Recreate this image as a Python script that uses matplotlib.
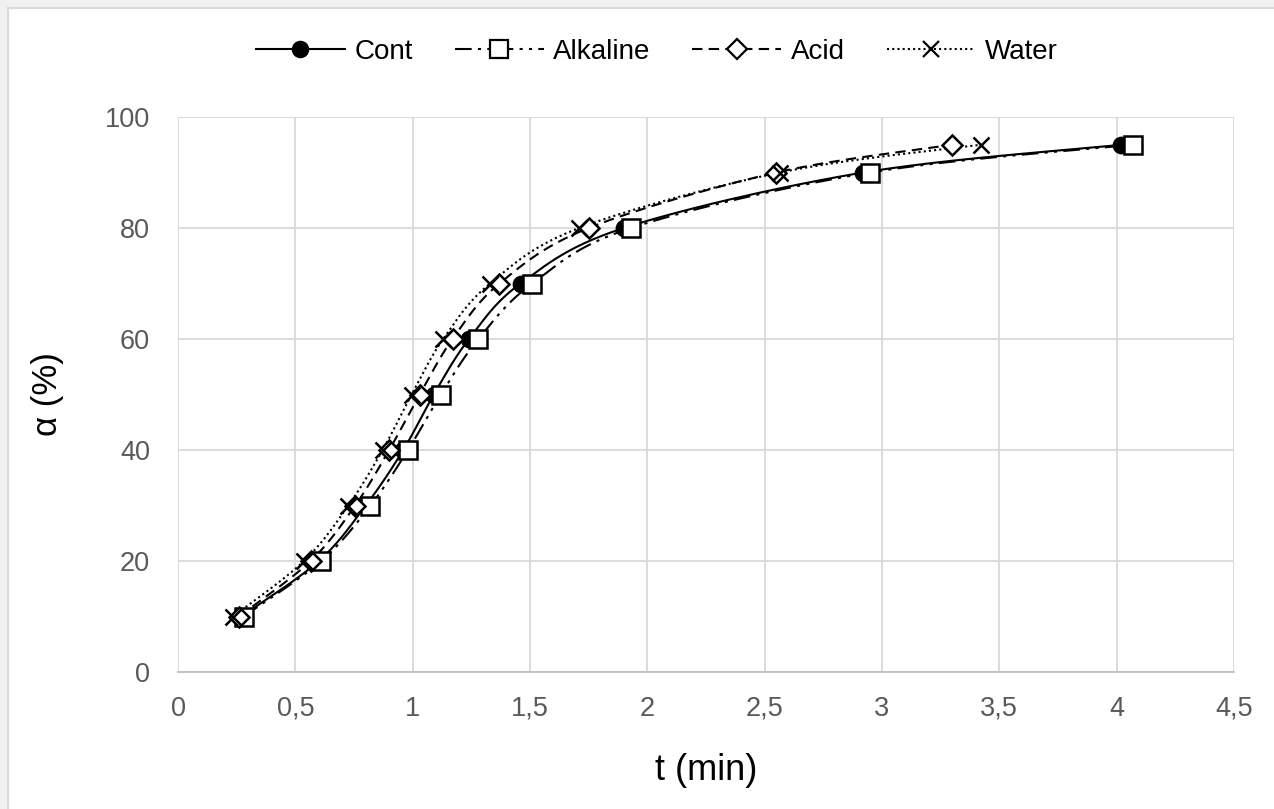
import numpy as np
import matplotlib.pyplot as plt
from matplotlib.ticker import FuncFormatter, MultipleLocator

# conversion degree (%) and time to reach it (min)
alpha = [10, 20, 30, 40, 50, 60, 70, 80, 90, 95]
t_cont = [0.27, 0.60, 0.80, 0.96, 1.09, 1.24, 1.46, 1.90, 2.92, 4.02]
t_alkaline = [0.28, 0.61, 0.82, 0.98, 1.12, 1.28, 1.51, 1.93, 2.95, 4.07]
t_acid = [0.26, 0.565, 0.755, 0.90, 1.03, 1.17, 1.37, 1.75, 2.55, 3.30]
t_water = [0.235, 0.537, 0.726, 0.872, 0.996, 1.13, 1.33, 1.71, 2.565, 3.42]

plt.rcParams['font.family'] = ['Liberation Sans', 'DejaVu Sans']

W, H = 1274, 809
fig = plt.figure(figsize=(W / 100, H / 100), dpi=100)

# grey frame strip along top and left like the exported chart box
fig.patches.append(plt.Rectangle((0, 0), 7 / W, 1, transform=fig.transFigure,
                                 facecolor='#f0f0f0', edgecolor='none'))
fig.patches.append(plt.Rectangle((0, 1 - 7 / H), 1, 7 / H, transform=fig.transFigure,
                                 facecolor='#f0f0f0', edgecolor='none'))
fig.patches.append(plt.Rectangle((8 / W, -0.1), 1.2, 1 + 0.1 - 8 / H, transform=fig.transFigure,
                                 fill=False, edgecolor='#d9d9d9', linewidth=1.5))

ax = fig.add_axes([178 / W, 1 - 672 / H, (1234 - 178) / W, (672 - 117) / H])
ax.set_xlim(0, 4.5)
ax.set_ylim(0, 100)


def smooth(ax, xs, ys, n=30):
    # Excel-like smoothed line: cubic Bezier through the points, built in display space
    pts = ax.transData.transform(np.column_stack([xs, ys]))
    out = [pts[0]]
    for i in range(len(pts) - 1):
        p0 = pts[max(i - 1, 0)]
        p1 = pts[i]
        p2 = pts[i + 1]
        p3 = pts[min(i + 2, len(pts) - 1)]
        c1 = p1 + (p2 - p0) / 6
        c2 = p2 - (p3 - p1) / 6
        s = np.linspace(0, 1, n)[1:, None]
        seg = ((1 - s) ** 3) * p1 + 3 * ((1 - s) ** 2) * s * c1 + 3 * (1 - s) * s ** 2 * c2 + s ** 3 * p2
        out.extend(seg)
    out = ax.transData.inverted().transform(np.array(out))
    return out[:, 0], out[:, 1]


series = [
    ("Cont", t_cont, dict(linestyle='-', marker='o', markersize=11, markerfacecolor='black')),
    ("Alkaline", t_alkaline, dict(linestyle=(0, (8, 3, 1.5, 3, 1.5, 3)), marker='s', markersize=13,
                                  markerfacecolor='white')),
    ("Acid", t_acid, dict(linestyle=(0, (5, 3)), marker='D', markersize=10, markerfacecolor='white')),
    ("Water", t_water, dict(linestyle=(0, (1, 1.5)), marker='x', markersize=12, markerfacecolor='none')),
]

for name, t, st in series:
    sx, sy = smooth(ax, t, alpha)
    ax.plot(sx, sy, color='black', linewidth=1.5, linestyle=st['linestyle'], zorder=3)
    ax.plot(t, alpha, linestyle='none', marker=st['marker'], markersize=st['markersize'],
            markerfacecolor=st['markerfacecolor'], markeredgecolor='black', markeredgewidth=1.8, zorder=4)
    ax.plot([], [], color='black', linewidth=1.5, linestyle=st['linestyle'], marker=st['marker'],
            markersize=st['markersize'], markerfacecolor=st['markerfacecolor'],
            markeredgecolor='black', markeredgewidth=1.6, label=name)

ax.xaxis.set_major_locator(MultipleLocator(0.5))
ax.yaxis.set_major_locator(MultipleLocator(20))
ax.xaxis.set_major_formatter(FuncFormatter(lambda v, p: f"{v:g}".replace('.', ',')))
ax.grid(True, color='#d9d9d9', linewidth=1.3)
ax.set_axisbelow(True)
for s in ['top', 'right', 'left']:
    ax.spines[s].set_visible(False)
ax.spines['bottom'].set_color('#bfbfbf')
ax.spines['bottom'].set_linewidth(1.3)
ax.tick_params(length=0, labelsize=19.5, labelcolor='#595959')
ax.tick_params(axis='x', pad=17)
ax.tick_params(axis='y', pad=20)

ax.set_xlabel('t (min)', fontsize=26)
ax.set_ylabel('α (%)', fontsize=25)
ax.xaxis.set_label_coords(0.5, (672 - 770) / 555)
ax.xaxis.label.set_va('center')
ax.yaxis.set_label_coords((48 - 178) / 1056, 0.5)
ax.yaxis.label.set_va('center')

ax.legend(loc='center', bbox_to_anchor=(657 / W, 1 - 52 / H), bbox_transform=fig.transFigure,
          ncol=4, frameon=False, fontsize=20, handlelength=3.2, columnspacing=1.5,
          handletextpad=0.35, borderpad=0)

fig.savefig('out.png', dpi=100)
